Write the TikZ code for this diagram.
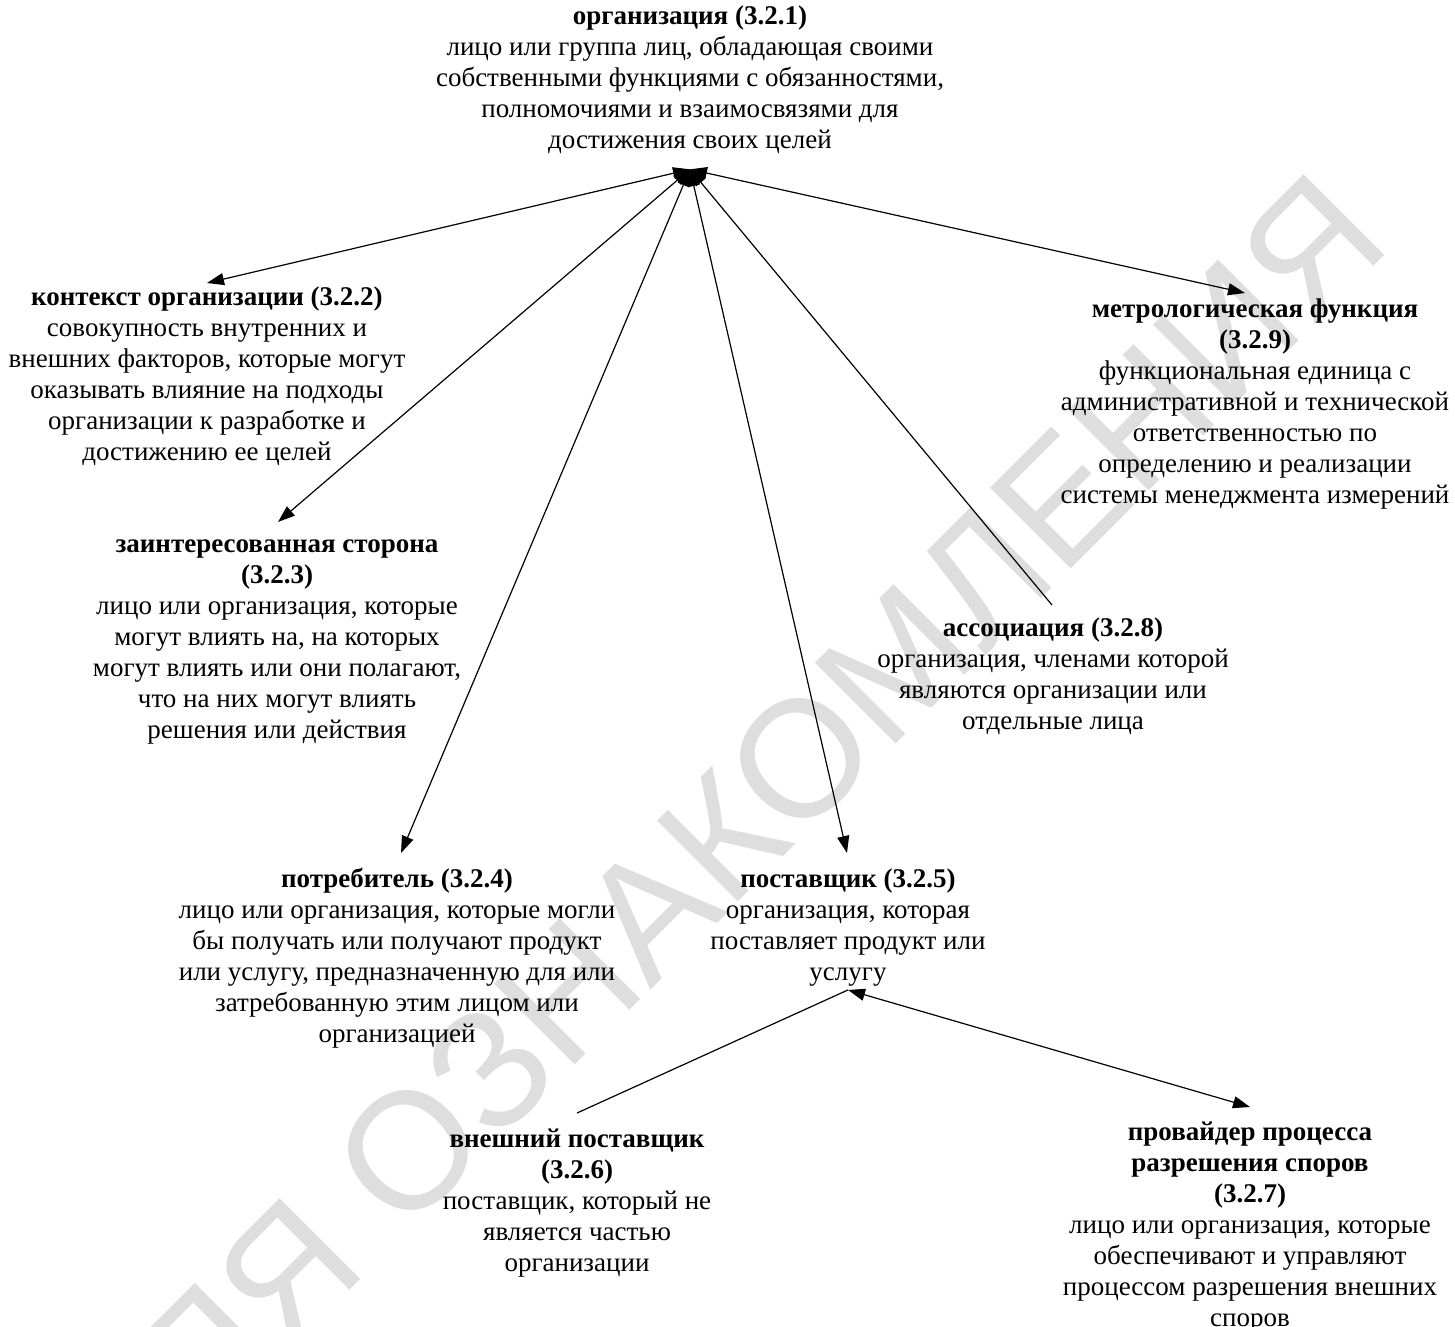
\documentclass[tikz,border=0pt]{standalone}
\usepackage{fontspec}
\setmainfont{Liberation Serif}
\newfontfamily\wmfont{Liberation Sans}
\usetikzlibrary{arrows.meta}
\definecolor{wmgray}{RGB}{222,222,222}
\tikzset{
  txt/.style={align=center, inner sep=0pt, anchor=north, font=\fontsize{27}{31}\selectfont},
  wm/.style={font=\wmfont\fontsize{166}{190}\selectfont, text=wmgray, inner sep=0pt},
  tipp/.tip={Triangle[length=17pt,width=12pt]},
  conn/.style={line width=1.2pt},
  arr/.style={conn, -tipp},
  barr/.style={conn, tipp-tipp},
}
\begin{document}
\begin{tikzpicture}[x=1pt,y=-1pt]
\useasboundingbox (0,0) rectangle (1455,1326);
\begin{scope}
\clip (0,0) rectangle (1455,1326);
\node[wm, anchor=base east, rotate=45] (wmark) at (1394,246) {ДЛЯ ОЗНАКОМЛЕНИЯ};
\end{scope}

\node[txt] (org) at (690,3) {\strut\textbf{организация (3.2.1)}\\
лицо или группа лиц, обладающая своими\\
собственными функциями с обязанностями,\\
полномочиями и взаимосвязями для\\
достижения своих целей};

\node[txt] (ctx) at (207,284) {\strut\textbf{контекст организации (3.2.2)}\\
совокупность внутренних и\\
внешних факторов, которые могут\\
оказывать влияние на подходы\\
организации к разработке и\\
достижению ее целей};

\node[txt] (st) at (277,531) {\strut\textbf{заинтересованная сторона}\\
\textbf{(3.2.3)}\\
лицо или организация, которые\\
могут влиять на, на которых\\
могут влиять или они полагают,\\
что на них могут влиять\\
решения или действия};

\node[txt] (cons) at (397,866) {\strut\textbf{потребитель (3.2.4)}\\
лицо или организация, которые могли\\
бы получать или получают продукт\\
или услугу, предназначенную для или\\
затребованную этим лицом или\\
организацией};

\node[txt] (sup) at (848,866) {\strut\textbf{поставщик (3.2.5)}\\
организация, которая\\
поставляет продукт или\\
услугу};

\node[txt] (ext) at (577,1126) {\strut\textbf{внешний поставщик}\\
\textbf{(3.2.6)}\\
поставщик, который не\\
является частью\\
организации};

\node[txt] (prov) at (1250,1119) {\strut\textbf{провайдер процесса}\\
\textbf{разрешения споров}\\
\textbf{(3.2.7)}\\
лицо или организация, которые\\
обеспечивают и управляют\\
процессом разрешения внешних\\
споров};

\node[txt] (assoc) at (1053,615) {\strut\textbf{ассоциация (3.2.8)}\\
организация, членами которой\\
являются организации или\\
отдельные лица};

\node[txt] (metro) at (1255,296) {\strut\textbf{метрологическая функция}\\
\textbf{(3.2.9)}\\
функциональная единица с\\
административной и технической\\
ответственностью по\\
определению и реализации\\
системы менеджмента измерений};

\coordinate (orgP) at ([yshift=-15pt]org.south);
\coordinate (supP) at ([yshift=-3pt]sup.south);

\draw[barr] (orgP) -- ([yshift=1pt]ctx.north);
\draw[barr] (orgP) -- ([xshift=1pt,yshift=9pt]st.north);
\draw[barr] (orgP) -- ([xshift=4pt,yshift=13pt]cons.north);
\draw[barr] (orgP) -- ([xshift=-1pt,yshift=13pt]sup.north);
\draw[arr] ([xshift=-1pt,yshift=10pt]assoc.north) -- (orgP);
\draw[barr] (orgP) -- ([xshift=-10pt,yshift=3pt]metro.north);
\draw[conn] (supP) -- ([yshift=13pt]ext.north);
\draw[barr] (supP) -- ([yshift=12pt]prov.north);
\end{tikzpicture}
\end{document}
